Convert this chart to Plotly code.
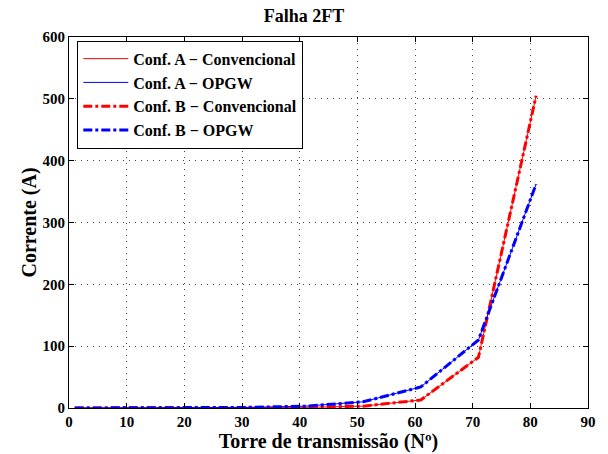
import plotly.graph_objects as go

torres = [1, 11, 21, 31, 41, 51, 61, 71, 81]
a_conv = [0, 0, 0, 0.5, 1, 3, 13, 82, 505]
a_opgw = [0, 0, 0.5, 1, 3, 10, 34, 110, 362]
b_conv = [0, 0, 0, 0.5, 1, 3, 13, 82, 505]
b_opgw = [0, 0, 0.5, 1, 3, 10, 34, 110, 362]

font = "Liberation Serif, Times New Roman, serif"

fig = go.Figure()
fig.add_trace(go.Scatter(x=torres, y=a_conv, mode="lines", name="<b>Conf. A \u2212 Convencional</b>",
                         line=dict(color="red", width=1)))
fig.add_trace(go.Scatter(x=torres, y=a_opgw, mode="lines", name="<b>Conf. A \u2212 OPGW</b>",
                         line=dict(color="blue", width=1)))
fig.add_trace(go.Scatter(x=torres, y=b_conv, mode="lines", name="<b>Conf. B \u2212 Convencional</b>",
                         line=dict(color="red", width=3, dash="dashdot")))
fig.add_trace(go.Scatter(x=torres, y=b_opgw, mode="lines", name="<b>Conf. B \u2212 OPGW</b>",
                         line=dict(color="blue", width=3, dash="dashdot")))

axis_common = dict(showline=True, linecolor="black", linewidth=1, mirror="ticks",
                   ticks="inside", ticklen=5, tickcolor="black",
                   showgrid=True, gridcolor="rgba(0,0,0,0.75)", griddash="1px,5px", gridwidth=1,
                   zeroline=False, automargin=False,
                   tickfont=dict(family=font, size=15, color="black"))

fig.update_layout(
    width=608, height=454,
    margin=dict(l=69, r=20, t=37, b=46),
    paper_bgcolor="white", plot_bgcolor="white",
    title=dict(text="<b>Falha 2FT</b>", x=0.5, xanchor="center", y=0.965, yanchor="middle",
               font=dict(family=font, size=18, color="black")),
    xaxis=dict(range=[0, 90], dtick=10,
               title=dict(text="<b>Torre de transmissão (Nº)</b>", standoff=4,
                          font=dict(family=font, size=20, color="black")),
               **axis_common),
    yaxis=dict(range=[0, 600], dtick=100,
               title=dict(text="<b>Corrente (A)</b>", standoff=0,
                          font=dict(family=font, size=20, color="black")),
               **axis_common),
    legend=dict(x=0.016, y=0.99, xanchor="left", yanchor="top",
                bgcolor="white", bordercolor="black", borderwidth=1,
                font=dict(family=font, size=16, color="black"),
                tracegroupgap=0, itemwidth=45),
    showlegend=True,
)
fig.update_xaxes(tickprefix="<b>", ticksuffix="</b>")
fig.update_yaxes(tickprefix="<b>", ticksuffix="</b>")

fig.write_html("out.html")
